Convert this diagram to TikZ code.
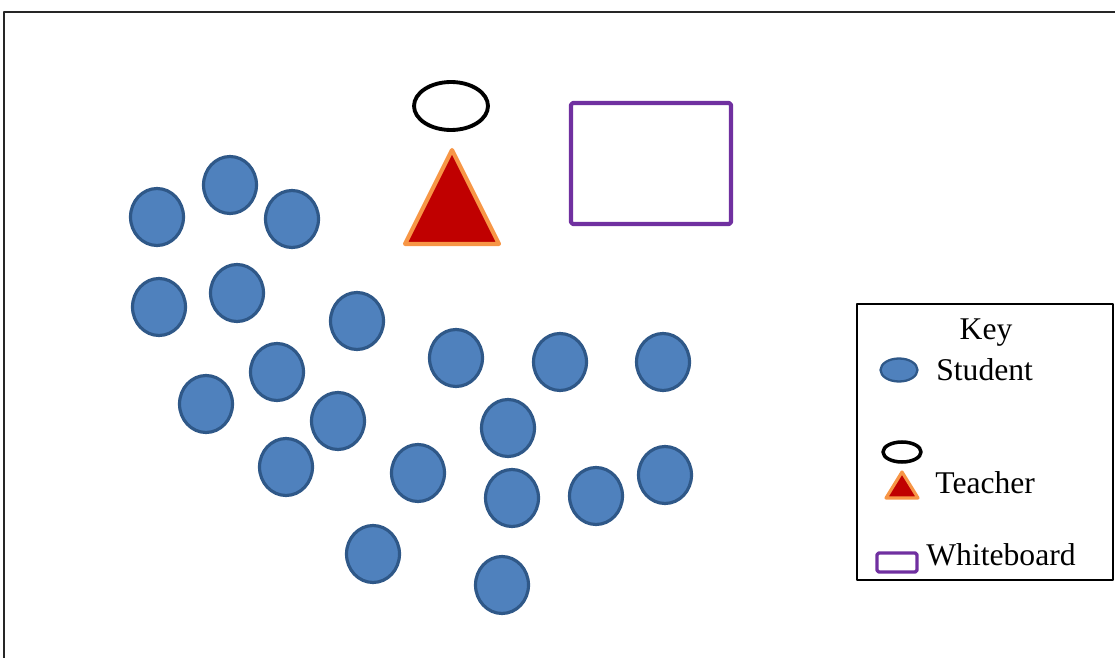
\documentclass[tikz,border=0pt]{standalone}
\usepackage{fontspec}
\setmainfont{Liberation Serif}
\usepackage{tikz}
\usetikzlibrary{shapes.geometric}
\usepackage{xcolor}
\definecolor{studentblue}{HTML}{4F81BD}
\definecolor{studentedge}{HTML}{2F5888}
\definecolor{teacherred}{HTML}{C00000}
\definecolor{teacherorange}{HTML}{F79646}
\definecolor{boardpurple}{HTML}{7030A0}

\begin{document}
\begin{tikzpicture}[x=0.02cm,y=-0.02cm,line join=round,
  student/.style={ellipse,draw=studentedge,fill=studentblue,line width=1.8pt,minimum width=1.06cm,minimum height=1.14cm,inner sep=0pt},
  halo/.style={ellipse,draw=black,line width=2.2pt,minimum width=1.48cm,minimum height=0.96cm,inner sep=0pt},
  keytext/.style={font=\fontsize{18}{20}\selectfont,inner sep=0pt}]
\useasboundingbox (0,0) rectangle (1115,658);
% frame
\draw[line width=1.1pt,black!85] (4,658) -- (4,12) -- (1115,12);
% students
\foreach \n/\px/\py in {1/157/217,2/230/185,3/292/219,4/159/307,5/237/293,6/357/321,7/277/372,8/206/404,9/338/421,10/286/467,11/418/473,12/373/554,13/456/358,14/560/362,15/663/362,16/508/428,17/512/498,18/596/496,19/665/475,20/502/585}
  \node[student] (s\n) at (\px,\py) {};
% teacher and whiteboard
\node[halo] (halo) at (451,106) {};
\draw[line width=2.3pt,draw=teacherorange,fill=teacherred] (452,150) -- (499,244) -- (405,244) -- cycle;
\draw[line width=2.3pt,draw=boardpurple,rounded corners=1pt] (571,103) rectangle (731,224);
% key
\draw[line width=0.8pt] (857,304) rectangle (1113,580);
\node[keytext] (key) at (986,333) {Key};
\node[ellipse,draw=studentedge,fill=studentblue,line width=1.3pt,minimum width=0.74cm,minimum height=0.46cm,inner sep=0pt] (kstudent) at (899,370) {};
\node[keytext,anchor=west] (lstudent) at (936,370) {Student};
\node[ellipse,draw=black,line width=2pt,minimum width=0.76cm,minimum height=0.4cm,inner sep=0pt] (khalo) at (902,452) {};
\draw[line width=1.8pt,draw=teacherorange,fill=teacherred] (902,472) -- (918,498) -- (886,498) -- cycle;
\node[keytext,anchor=west] (lteacher) at (935,483) {Teacher};
\draw[line width=1.9pt,draw=boardpurple,rounded corners=1pt] (877,553) rectangle (917,572);
\node[keytext,anchor=west] (lboard) at (926,555) {Whiteboard};
\end{tikzpicture}
\end{document}
